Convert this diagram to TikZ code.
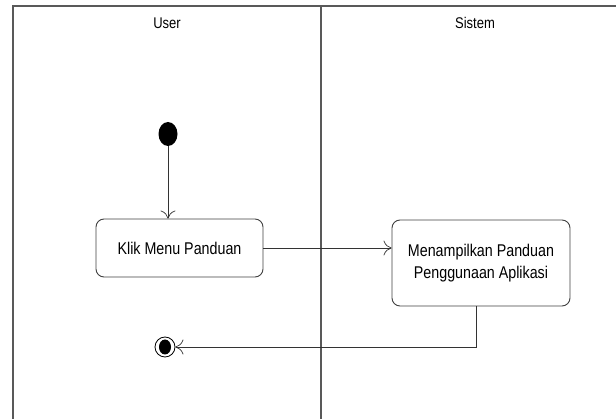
\documentclass[tikz,border=0pt]{standalone}
\usepackage{fontspec}
\setmainfont{Liberation Sans}[FakeStretch=0.84]
\usetikzlibrary{arrows.meta,shapes.geometric}
\begin{document}
\begin{tikzpicture}[x=1pt,y=-1pt,
  lane/.style={draw=black!65,line width=1.3pt},
  action/.style={draw=black!75,line width=0.9pt,rounded corners=8pt,fill=white,align=center,font=\fontsize{17}{22}\selectfont},
  flow/.style={draw=black!80,line width=0.7pt,-{To[length=8pt,width=15pt,line width=0.7pt]}},
  lanetitle/.style={font=\fontsize{15.5}{18}\selectfont}]
\useasboundingbox (0,0) rectangle (616,419);
% swimlane frame
\draw[lane] (616,6) -- (13,6) -- (13,419);
\draw[lane] (321,6) -- (321,419);
\node[lanetitle] (tUser) at (167,23) {User};
\node[lanetitle] (tSistem) at (475,23) {Sistem};
% nodes
\node[ellipse,fill=black,minimum width=19pt,minimum height=24pt,inner sep=0pt] (start) at (168,134) {};
\node[action,minimum width=167pt,minimum height=58pt] (klik) at (179.5,248) {Klik Menu Panduan};
\node[action,minimum width=178pt,minimum height=86pt] (tampil) at (481,263) {Menampilkan Panduan\\Penggunaan Aplikasi};
\node[circle,draw=black,line width=0.8pt,minimum size=20pt,inner sep=0pt] (end) at (165,347) {};
\node[ellipse,fill=black,minimum width=12pt,minimum height=15pt,inner sep=0pt] (endin) at (end.center) {};
\coordinate (bend) at (476,347);
% flows
\draw[flow] (start) -- (start |- klik.north);
\draw[flow] (klik) -- (tampil.west |- klik.east);
\draw[flow] (tampil.south -| bend) -- (bend) -- (end);
\end{tikzpicture}
\end{document}
